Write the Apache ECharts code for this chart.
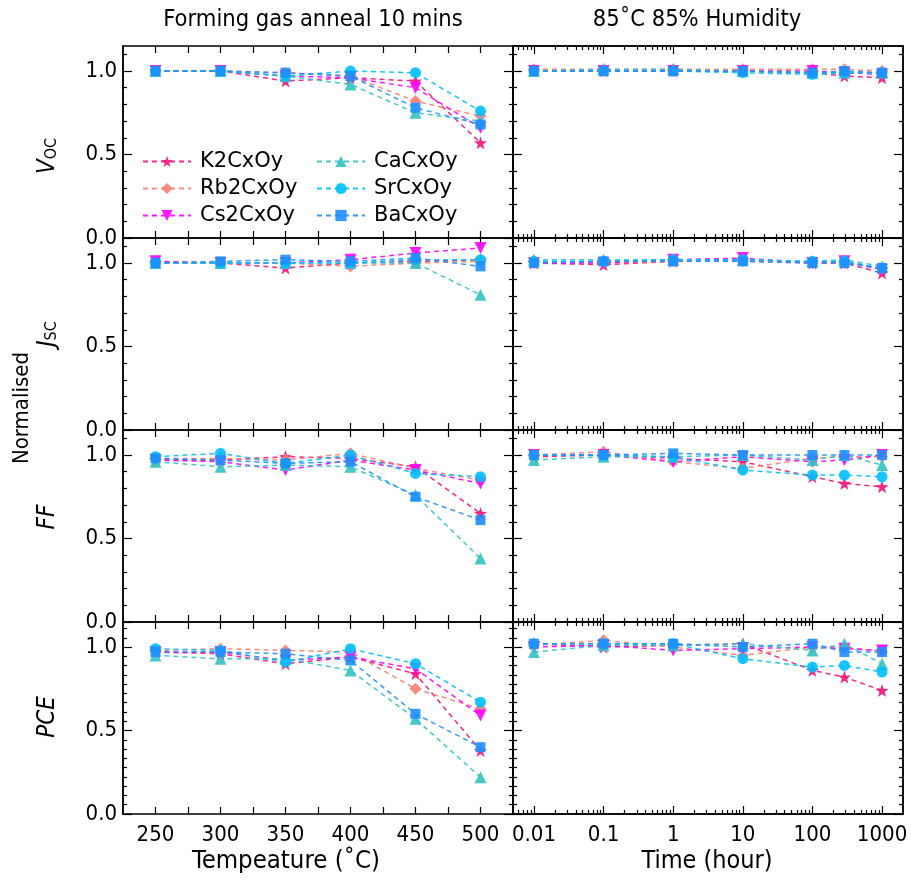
<!DOCTYPE html>
<html>
<head>
<meta charset="utf-8">
<script src="https://cdn.jsdelivr.net/npm/echarts@6/dist/echarts.min.js"></script>
<style>html,body{margin:0;background:#fff}#main{width:911px;height:881px}</style>
</head>
<body>
<div id="main"></div>
<script>
// materials, in legend order
var names = ['K2CxOy', 'Rb2CxOy', 'Cs2CxOy', 'CaCxOy', 'SrCxOy', 'BaCxOy'];

// x values
var tempX = [250, 300, 350, 400, 450, 500];            // anneal temperature (C)
var timeX = [0.01, 0.1, 1, 10, 100, 288, 1000];        // damp heat time (hour)

// tick labels
var tempTicks = [250, 300, 350, 400, 450, 500];
var timeTicks = [0.01, 0.1, 1, 10, 100, 1000];
var yTicks = [0, 0.5, 1.0];

// Voc, normalised
var vocTemp = [
  [1.00, 1.00, 0.94, 0.96, 0.94, 0.57],
  [1.00, 1.00, 0.99, 0.97, 0.82, 0.73],
  [1.00, 1.00, 0.97, 0.96, 0.90, 0.66],
  [1.00, 1.00, 0.97, 0.92, 0.75, 0.70],
  [1.00, 1.00, 0.97, 1.00, 0.99, 0.76],
  [1.00, 1.00, 0.99, 0.97, 0.78, 0.68]
];
var vocTime = [
  [1.00, 1.00, 1.00, 1.00, 0.99, 0.97, 0.96],
  [1.01, 1.01, 1.01, 1.01, 1.01, 1.01, 1.00],
  [1.00, 1.00, 1.00, 1.00, 1.00, 0.99, 0.98],
  [1.00, 1.01, 1.01, 1.00, 0.99, 0.99, 0.99],
  [1.00, 1.00, 1.00, 0.99, 0.98, 0.99, 0.99],
  [1.00, 1.00, 1.00, 1.00, 0.99, 1.00, 0.99]
];
// Jsc
var jscTemp = [
  [1.00, 1.00, 0.97, 1.00, 1.01, 1.02],
  [1.01, 1.00, 1.00, 0.98, 1.00, 1.01],
  [1.01, 1.00, 1.00, 1.02, 1.06, 1.09],
  [1.00, 1.00, 1.00, 1.00, 1.00, 0.81],
  [1.00, 1.00, 1.00, 1.00, 1.02, 1.02],
  [1.00, 1.01, 1.02, 1.01, 1.03, 0.98]
];
var jscTime = [
  [1.00, 0.99, 1.01, 1.02, 1.00, 1.00, 0.94],
  [1.01, 1.00, 1.01, 1.01, 1.00, 1.00, 0.97],
  [1.00, 1.00, 1.02, 1.03, 1.00, 1.01, 0.96],
  [1.02, 1.02, 1.02, 1.02, 1.01, 1.02, 0.98],
  [1.01, 1.01, 1.02, 1.02, 1.01, 1.01, 0.97],
  [1.00, 1.01, 1.01, 1.01, 1.00, 1.00, 0.97]
];
// FF
var ffTemp = [
  [0.97, 0.97, 0.99, 0.98, 0.93, 0.65],
  [0.98, 0.98, 0.97, 1.01, 0.92, 0.85],
  [0.97, 0.96, 0.91, 0.97, 0.91, 0.83],
  [0.96, 0.93, 0.94, 0.93, 0.76, 0.38],
  [0.99, 1.01, 0.95, 1.00, 0.89, 0.87],
  [0.98, 0.97, 0.95, 0.96, 0.75, 0.61]
];
var ffTime = [
  [0.99, 1.00, 0.98, 0.96, 0.87, 0.83, 0.81],
  [1.00, 1.02, 0.96, 0.92, 0.98, 0.99, 0.99],
  [1.00, 1.00, 0.96, 0.99, 0.96, 0.97, 1.00],
  [0.97, 0.99, 0.99, 1.00, 0.97, 1.00, 0.94],
  [1.00, 1.00, 0.99, 0.91, 0.88, 0.88, 0.87],
  [1.00, 1.00, 1.01, 1.00, 1.00, 1.00, 1.00]
];
// PCE
var pceTemp = [
  [0.97, 0.96, 0.90, 0.94, 0.84, 0.38],
  [0.98, 0.99, 0.98, 0.97, 0.75, 0.63],
  [0.97, 0.97, 0.92, 0.94, 0.87, 0.59],
  [0.95, 0.93, 0.93, 0.86, 0.57, 0.22],
  [0.99, 0.98, 0.91, 0.99, 0.90, 0.67],
  [0.97, 0.97, 0.96, 0.92, 0.60, 0.40]
];
var pceTime = [
  [1.02, 1.00, 1.01, 1.02, 0.86, 0.82, 0.74],
  [1.01, 1.04, 1.00, 0.95, 1.00, 1.00, 0.97],
  [1.00, 1.01, 0.98, 0.99, 1.00, 0.99, 0.98],
  [0.97, 1.01, 1.01, 1.02, 0.98, 1.02, 0.90],
  [1.02, 1.02, 1.02, 0.93, 0.88, 0.89, 0.85],
  [1.02, 1.02, 1.02, 1.00, 1.02, 0.97, 0.97]
];

var rows = [
  {temp: vocTemp, time: vocTime},
  {temp: jscTemp, time: jscTime},
  {temp: ffTemp, time: ffTime},
  {temp: pceTemp, time: pceTime}
];

var colors = ['#f0147a', '#fa8072', '#ff00ff', '#33c2c2', '#00bfff', '#1e8fff'];
var star = 'path://M0,-10L2.35,-3.24L9.51,-3.09L3.8,1.24L5.88,8.09L0,4L-5.88,8.09L-3.8,1.24L-9.51,-3.09L-2.35,-3.24Z';
var symbols = [star, 'diamond', 'triangle', 'triangle', 'circle', 'rect'];
var rotates = [0, 0, 180, 0, 0, 0];
var sizes = [13, 12, 12, 12, 11, 10];

var tickFont = '"DejaVu Sans Condensed", "DejaVu Sans", sans-serif';

// minor tick positions
var tempMinor = [];
for (var t = 250; t <= 500; t += 25) tempMinor.push(t);
var timeMinor = [];
[0.001, 0.01, 0.1, 1, 10, 100, 1000].forEach(function (d) {
  for (var k = 2; k <= 9; k++) {
    var v = +(k * d).toPrecision(3);
    if (v > 0.005 && v < 2000) timeMinor.push(v);
  }
});
function yMinor(step) {
  var out = [];
  for (var k = 1; k * step < 1.15; k++) {
    var v = k * step;
    if (Math.abs(v - 0.5) > 1e-6 && Math.abs(v - 1) > 1e-6) out.push(+v.toFixed(4));
  }
  return out;
}

var myChart = echarts.init(document.getElementById('main'));

var lefts = [123, 513];
var tops = [46, 238, 430, 622];
var grids = [], xAxes = [], yAxes = [], series = [];

function frame() {
  return {show: true, onZero: false, lineStyle: {color: '#000', width: 1.5}};
}
function ticks(vals, len) {
  return {show: true, inside: true, length: len, customValues: vals, lineStyle: {color: '#000', width: 1.2}};
}
var labelStyle = {color: '#000', fontSize: 22, fontFamily: tickFont};

rows.forEach(function (row, r) {
  [0, 1].forEach(function (c) {
    var g = grids.length;
    grids.push({left: lefts[c], top: tops[r], width: 390, height: 192});
    var last = r === 3;
    var xi = xAxes.length;
    if (c === 0) {
      var xb = {type: 'value', gridIndex: g, min: 225, max: 525, splitLine: {show: false}, axisLine: frame()};
      xAxes.push(Object.assign({}, xb, {
        position: 'bottom', axisTick: ticks(tempMinor, 7),
        axisLabel: Object.assign({show: last, margin: 10, customValues: tempTicks}, labelStyle)
      }));
      xAxes.push(Object.assign({}, xb, {position: 'top', axisTick: ticks(tempMinor, 7), axisLabel: {show: false}}));
    } else {
      var lb = {type: 'log', logBase: 10, gridIndex: g, min: 0.005, max: 2000, splitLine: {show: false}, axisLine: frame()};
      xAxes.push(Object.assign({}, lb, {
        position: 'bottom', axisTick: ticks(timeTicks, 8),
        axisLabel: Object.assign({
          show: last, margin: 10, customValues: timeTicks,
          formatter: function (v) { return String(+(+v).toPrecision(3)); }
        }, labelStyle)
      }));
      xAxes.push(Object.assign({}, lb, {position: 'bottom', axisTick: ticks(timeMinor, 4), axisLabel: {show: false}}));
      xAxes.push(Object.assign({}, lb, {position: 'top', axisTick: ticks(timeTicks, 8), axisLabel: {show: false}}));
      xAxes.push(Object.assign({}, lb, {position: 'top', axisTick: ticks(timeMinor, 4), axisLabel: {show: false}}));
    }
    var yi = yAxes.length;
    var minor = yMinor(r === 3 ? 0.5 / 9 : 0.1);
    var yb = {type: 'value', gridIndex: g, min: 0, max: 1.15, splitLine: {show: false}, axisLine: frame()};
    yAxes.push(Object.assign({}, yb, {
      position: 'left', axisTick: ticks(yTicks, 9),
      axisLabel: Object.assign({
        show: c === 0, margin: 6, customValues: yTicks,
        formatter: function (v) { return (+v).toFixed(1); }
      }, labelStyle)
    }));
    yAxes.push(Object.assign({}, yb, {position: 'left', axisTick: ticks(minor, 4), axisLabel: {show: false}}));
    yAxes.push(Object.assign({}, yb, {position: 'right', axisTick: ticks(yTicks, 9), axisLabel: {show: false}}));
    yAxes.push(Object.assign({}, yb, {position: 'right', axisTick: ticks(minor, 4), axisLabel: {show: false}}));

    var xs = c === 0 ? tempX : timeX;
    var vals = c === 0 ? row.temp : row.time;
    names.forEach(function (name, i) {
      series.push({
        name: name,
        type: 'line',
        xAxisIndex: xi,
        yAxisIndex: yi,
        data: xs.map(function (x, j) { return [x, vals[i][j]]; }),
        symbol: symbols[i],
        symbolRotate: rotates[i],
        symbolSize: sizes[i],
        showAllSymbol: true,
        color: colors[i],
        itemStyle: {color: colors[i], opacity: 0.9},
        lineStyle: {color: colors[i], width: 1.5, type: [5, 4], opacity: 0.9}
      });
    });
  });
});

function rowLabel(y, text) {
  return {
    type: 'text', x: 48, y: y, rotation: Math.PI / 2,
    style: {text: text, rich: richStyles, align: 'center', verticalAlign: 'middle', fill: '#000',
            fontFamily: tickFont}
  };
}
var richStyles = {
  i: {fontStyle: 'italic', fontSize: 24, fontFamily: tickFont},
  s: {fontSize: 16, verticalAlign: 'bottom', fontFamily: tickFont}
};
function plainText(x, y, text, size, rot) {
  return {
    type: 'text', x: x, y: y, rotation: rot || 0,
    style: {text: text, fontSize: size, fontFamily: tickFont, fill: '#000', align: 'center', verticalAlign: 'middle'}
  };
}

option = {
  animation: false,
  backgroundColor: '#fff',
  grid: grids,
  xAxis: xAxes,
  yAxis: yAxes,
  series: series,
  legend: [
    {
      data: names.slice(0, 3), orient: 'vertical', left: 137, top: 146,
      itemWidth: 48, itemHeight: 14, itemGap: 6,
      textStyle: {fontSize: 21, color: '#000', fontFamily: '"DejaVu Sans", sans-serif', padding: [0, 0, 0, 4]}
    },
    {
      data: names.slice(3), orient: 'vertical', left: 311, top: 146,
      itemWidth: 48, itemHeight: 14, itemGap: 6,
      textStyle: {fontSize: 21, color: '#000', fontFamily: '"DejaVu Sans", sans-serif', padding: [0, 0, 0, 4]}
    }
  ],
  graphic: [
    plainText(313, 20, 'Forming gas anneal 10 mins', 23.5),
    plainText(697, 20, '85\u02DAC 85% Humidity', 23.5),
    plainText(286, 861, 'Tempeature (\u02DAC)', 25.5),
    plainText(707, 861, 'Time (hour)', 25),
    plainText(22, 408, 'Normalised', 22, Math.PI / 2),
    rowLabel(156, '{i|V}{s|OC}'),
    rowLabel(334, '{i|J}{s|SC}'),
    rowLabel(517, '{i|FF}'),
    rowLabel(717, '{i|PCE}')
  ]
};
myChart.setOption(option);
</script>
</body>
</html>
